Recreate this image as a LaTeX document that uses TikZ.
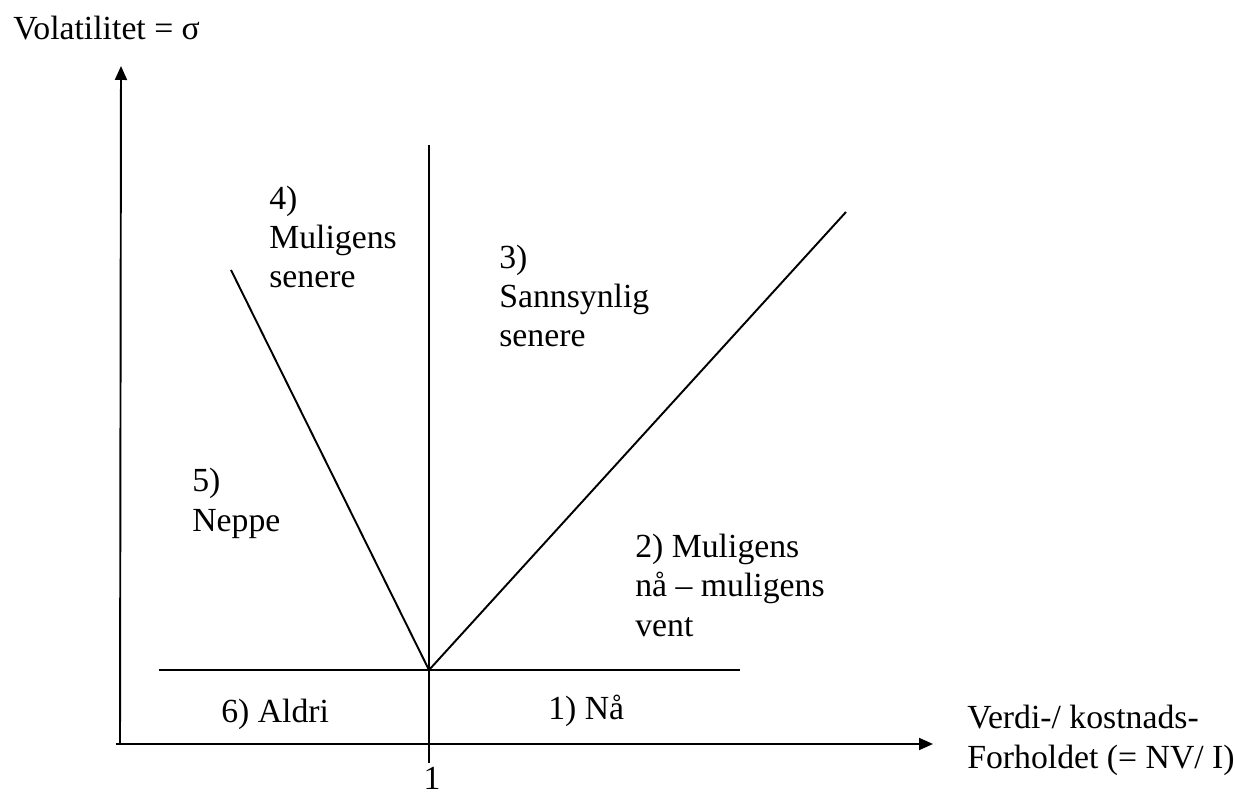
\documentclass[tikz,border=0pt]{standalone}
\usepackage{fontspec}
\setmainfont{Liberation Serif}
\usetikzlibrary{arrows.meta}

\begin{document}
\begin{tikzpicture}[
  x=0.02cm, y=-0.02cm,
  axis/.style={line width=1.1pt, black, -{Triangle[length=0.28cm, width=0.24cm]}},
  line/.style={line width=1.1pt, black},
  lbl/.style={inner sep=0pt, align=left, anchor=base west, font=\fontsize{19.2}{22.2}\selectfont}
]
  \useasboundingbox (0,0) rectangle (1235,797);

  % ── Axes ───────────────────────────────────────────────────────────────
  \coordinate (orig)  at (120, 744);
  \coordinate (xend)  at (933, 744);
  \coordinate (yend)  at (121,  66);
  \coordinate (xleft) at (116, 744);
  \draw[axis] (xleft) -- (xend);
  \draw[axis] (orig)  -- (yend);

  % ── Dividing lines ─────────────────────────────────────────────────────
  \coordinate (mid)    at (429, 670);
  \coordinate (vtop)   at (429, 145);
  \coordinate (vbot)   at (429, 763);
  \coordinate (hleft)  at (159, 670);
  \coordinate (hright) at (740, 670);
  \coordinate (dleft)  at (231, 270);
  \coordinate (dright) at (846, 212);
  \draw[line] (vtop)  -- (vbot);
  \draw[line] (hleft) -- (hright);
  \draw[line] (mid)   -- (dleft);
  \draw[line] (mid)   -- (dright);

  % ── Axis labels (base = last line) ─────────────────────────────────────
  \node[lbl] (ylabel) at (13, 40)   {Volatilitet = σ};
  \node[lbl] (xlabel) at (967, 768) {Verdi-/ kostnads-\\Forholdet (= NV/ I)};
  \node[lbl, anchor=north] (one) at (432, 767) {1};

  % ── Regions ────────────────────────────────────────────────────────────
  \node[lbl] (reg4) at (269, 288) {4)\\Muligens\\senere};
  \node[lbl] (reg3) at (499, 347) {3)\\Sannsynlig\\senere};
  \node[lbl] (reg5) at (192, 531) {5)\\Neppe};
  \node[lbl] (reg2) at (635, 636) {2) Muligens\\nå – muligens\\vent};
  \node[lbl] (reg6) at (221, 722) {6) Aldri};
  \node[lbl] (reg1) at (548, 719) {1) Nå};
\end{tikzpicture}
\end{document}
